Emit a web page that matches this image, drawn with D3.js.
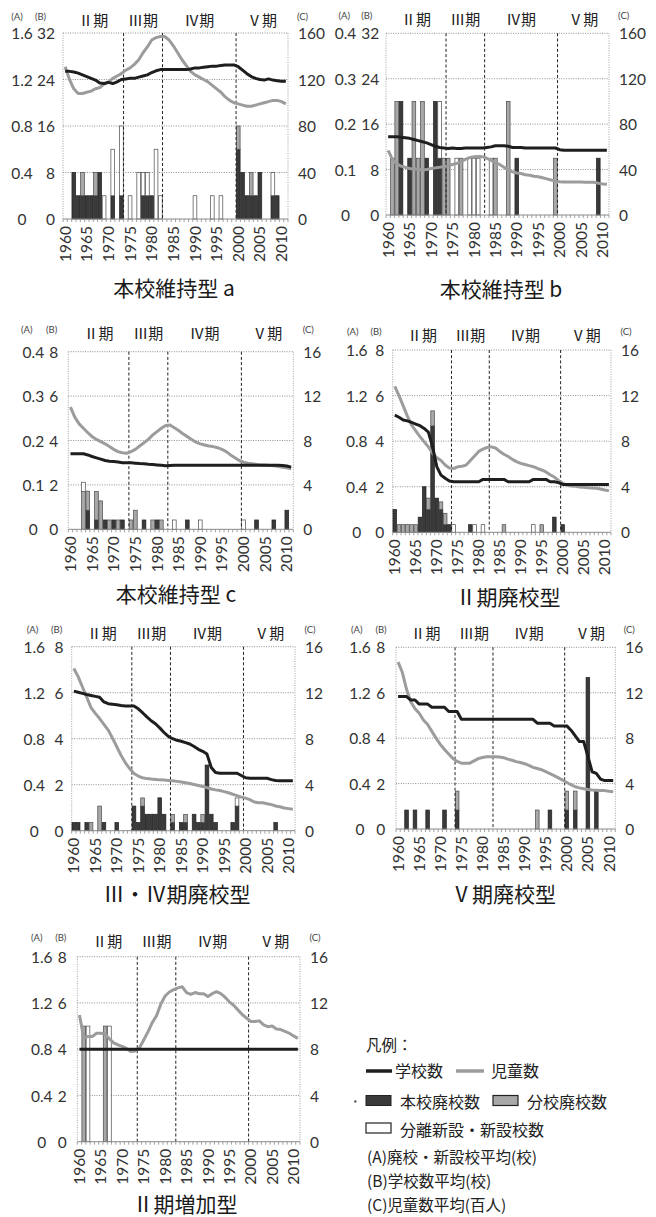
<!DOCTYPE html>
<html>
<head>
<meta charset="utf-8">
<script src="https://cdn.jsdelivr.net/npm/d3@7"></script>
<style>
  html, body { margin: 0; padding: 0; background: #fff; }
  svg { display: block; }
</style>
</head>
<body>
<svg id="chart" width="656" height="1217"></svg>
<script>
// ---------------------------------------------------------------
// Categories and tick labels
// ---------------------------------------------------------------
const years = d3.range(1960, 2012);
const yearTicks = [1960, 1965, 1970, 1975, 1980, 1985, 1990, 1995, 2000, 2005, 2010];
const yearTickLabels = ["1960", "1965", "1970", "1975", "1980", "1985", "1990", "1995", "2000", "2005", "2010"];
const periodNames = ["Ⅱ期", "Ⅲ期", "Ⅳ期", "Ⅴ期"];
const periodStarts = [1960, 1974, 1983, 2000];

const ticksA16 = [0, 0.4, 0.8, 1.2, 1.6];
const labelsA16 = ["0", "0.4", "0.8", "1.2", "1.6"];
const ticksA04 = [0, 0.1, 0.2, 0.3, 0.4];
const labelsA04 = ["0", "0.1", "0.2", "0.3", "0.4"];
const ticksB32 = [0, 8, 16, 24, 32];
const labelsB32 = ["0", "8", "16", "24", "32"];
const ticksB8 = [0, 2, 4, 6, 8];
const labelsB8 = ["0", "2", "4", "6", "8"];
const ticksC160 = [0, 40, 80, 120, 160];
const labelsC160 = ["0", "40", "80", "120", "160"];
const ticksC16 = [0, 4, 8, 12, 16];
const labelsC16 = ["0", "4", "8", "12", "16"];

// ---------------------------------------------------------------
// 本校維持型 a
// ---------------------------------------------------------------
const schools_a = [25.4,25.4,25.3,25.1,24.8,24.5,24.2,23.9,23.4,23.3,
                   23.5,23.3,23.6,24.0,24.1,24.2,24.2,24.4,24.6,24.8,
                   25.2,25.5,25.7,25.7,25.7,25.7,25.7,25.7,25.7,25.8,
                   26.0,26.0,26.1,26.2,26.3,26.3,26.4,26.5,26.5,26.5,
                   26.2,25.6,25.0,24.5,24.2,24.0,23.9,24.1,23.9,23.8,
                   23.7,23.7];
const pupils_a = [131,120,112,108,108,109,110,112,113,116,
                  118,121,123,125,128,130,133,137,143,148,
                  154,156,157,157,154,149,143,137,132,127,
                  124,122,120,118,115,112,109,105,102,100,
                  99,98,97,97,98,99,100,101,102,102,
                  101,99];
const closedMain_a = [[1962,0.4],[1963,0.2],[1964,0.2],[1965,0.2],[1966,0.2],[1967,0.2],[1968,0.4],
                      [1971,0.2],[1973,0.2],[1978,0.2],[1979,0.2],[1980,0.2],
                      [2000,0.6],[2001,0.4],[2002,0.2],[2003,0.2],[2004,0.2],[2005,0.4],[2008,0.2],[2009,0.2]];
const closedBranch_a = [[1964,0.2],[1967,0.2],[2000,0.2],[2003,0.2]];
const opened_a = [[1969,0.2],[1971,0.4],[1973,0.6],[1975,0.2],[1977,0.4],[1978,0.2],[1979,0.2],
                  [1981,0.6],[1982,0.2],[1990,0.2],[1994,0.2],[1996,0.2],[2008,0.2]];

// ---------------------------------------------------------------
// 本校維持型 b
// ---------------------------------------------------------------
const schools_b = [13.8,13.8,13.8,13.7,13.6,13.5,13.3,13.1,12.9,12.7,
                   12.4,12.1,11.9,11.8,11.7,11.8,11.7,11.7,11.8,11.8,
                   11.8,11.8,11.8,11.9,12.0,12.2,12.2,12.2,12.1,11.9,
                   11.9,11.9,11.8,11.8,11.8,11.8,11.8,11.8,11.8,11.8,
                   11.5,11.4,11.4,11.4,11.4,11.4,11.4,11.4,11.4,11.4,
                   11.4,11.4];
const pupils_b = [57,49,45,43,42,41,40.5,40,39.6,40,
                  41,41.5,42,42.6,43.5,44.5,45.5,47,49,50.5,
                  51.4,51.5,51.4,50,48,46,44.5,42,39.6,38,
                  37,36.5,35.5,35,34.2,33.7,32.8,31.8,30.8,30,
                  29.3,29,29,29,29,29,28.9,28.8,28.8,28,
                  27.4,27];
const closedMain_b = [[1963,0.25],[1965,0.125],[1969,0.125],[1971,0.25],[1972,0.125],[1990,0.125],[2009,0.125]];
const closedBranch_b = [[1961,0.125],[1962,0.25],[1966,0.25],[1967,0.125],[1968,0.25],[1973,0.125],
                        [1974,0.125],[1977,0.125],[1985,0.125],[1988,0.25],[1999,0.125]];
const opened_b = [[1972,0.125],[1976,0.125],[1979,0.125],[1980,0.125],[1981,0.125],[1984,0.125]];

// ---------------------------------------------------------------
// 本校維持型 c
// ---------------------------------------------------------------
const schools_c = [3.4,3.4,3.4,3.4,3.35,3.28,3.22,3.16,3.1,3.07,
                   3.05,3.03,3.0,3.0,3.0,2.98,2.96,2.95,2.93,2.92,
                   2.9,2.88,2.86,2.87,2.88,2.88,2.88,2.88,2.88,2.88,
                   2.88,2.88,2.88,2.88,2.88,2.88,2.88,2.88,2.88,2.88,
                   2.88,2.88,2.88,2.88,2.88,2.88,2.88,2.88,2.88,2.87,
                   2.85,2.8];
const pupils_c = [11.0,10.1,9.5,9.1,8.7,8.35,8.1,7.9,7.7,7.45,
                  7.2,7.0,6.9,6.85,7.0,7.2,7.5,7.8,8.1,8.5,
                  8.8,9.1,9.35,9.4,9.15,8.9,8.6,8.35,8.1,7.85,
                  7.7,7.6,7.5,7.45,7.35,7.2,7.0,6.7,6.45,6.2,
                  6.05,5.95,5.9,5.85,5.8,5.8,5.75,5.72,5.65,5.6,
                  5.55,5.45];
const closedMain_c = [[1964,0.043],[1966,0.021],[1968,0.021],[1970,0.021],[1972,0.021],[1977,0.021],
                      [1980,0.021],[1987,0.021],[2003,0.021],[2007,0.021],[2010,0.043]];
const closedBranch_c = [[1963,0.085],[1964,0.043],[1966,0.064],[1967,0.064],[1969,0.021],[1971,0.021],
                        [1974,0.021],[1975,0.043],[1979,0.021],[1981,0.021]];
const opened_c = [[1963,0.021],[1984,0.021],[1990,0.021],[2000,0.021]];

// ---------------------------------------------------------------
// Ⅱ期廃校型
// ---------------------------------------------------------------
const schools_d = [5.14,5.05,4.93,4.89,4.82,4.75,4.68,4.56,4.4,3.75,
                   2.88,2.51,2.37,2.25,2.22,2.22,2.22,2.22,2.22,2.22,
                   2.22,2.32,2.32,2.32,2.32,2.32,2.32,2.22,2.22,2.22,
                   2.22,2.22,2.22,2.32,2.32,2.32,2.32,2.22,2.22,2.18,
                   2.1,2.1,2.1,2.1,2.1,2.1,2.1,2.1,2.1,2.1,
                   2.1,2.1];
const pupils_d = [12.8,12.0,11.1,10.2,9.4,8.9,8.4,7.95,7.5,6.95,
                  6.55,6.3,5.9,5.65,5.6,5.75,5.8,5.9,6.3,6.7,
                  7.1,7.3,7.45,7.5,7.4,7.1,6.85,6.65,6.4,6.2,
                  6.05,5.95,5.85,5.76,5.6,5.47,5.3,5.05,4.85,4.55,
                  4.3,4.15,4.07,4.03,3.98,3.95,3.92,3.89,3.86,3.8,
                  3.72,3.65];
const closedMain_d = [[1960,0.2],[1966,0.133],[1967,0.4],[1968,0.2],[1969,0.933],[1970,0.3],[1971,0.2],
                      [1972,0.067],[1973,0.067],[1978,0.067],[1998,0.133],[2000,0.067]];
const closedBranch_d = [[1961,0.067],[1962,0.067],[1963,0.067],[1964,0.067],[1965,0.067],[1968,0.1],
                        [1969,0.133],[1971,0.067],[1972,0.1],[1986,0.067],[1995,0.067]];
const opened_d = [[1974,0.067],[1979,0.067],[1981,0.067],[1993,0.067]];

// ---------------------------------------------------------------
// Ⅲ・Ⅳ期廃校型
// ---------------------------------------------------------------
const schools_e = [6.07,6.02,5.97,5.92,5.88,5.84,5.8,5.6,5.52,5.5,
                   5.48,5.44,5.42,5.42,5.42,5.3,5.13,4.95,4.78,4.65,
                   4.47,4.27,4.1,4.0,3.93,3.89,3.83,3.77,3.66,3.54,
                   3.45,3.33,2.75,2.53,2.5,2.5,2.5,2.5,2.5,2.4,
                   2.3,2.28,2.28,2.28,2.28,2.28,2.22,2.18,2.17,2.17,
                   2.17,2.17];
const pupils_e = [14.1,13.4,12.5,11.6,10.7,10.2,9.75,9.25,8.75,8.05,
                  7.3,6.55,5.9,5.4,4.97,4.75,4.6,4.53,4.49,4.46,
                  4.42,4.4,4.37,4.34,4.29,4.24,4.17,4.1,4.02,3.93,
                  3.85,3.75,3.63,3.55,3.49,3.4,3.3,3.17,3.05,2.92,
                  2.83,2.7,2.5,2.43,2.43,2.35,2.27,2.15,2.08,1.98,
                  1.92,1.86];
const closedMain_e = [[1960,0.071],[1961,0.071],[1963,0.071],[1967,0.071],[1970,0.071],[1974,0.214],
                      [1975,0.071],[1976,0.214],[1977,0.143],[1978,0.143],[1979,0.143],[1980,0.286],
                      [1981,0.143],[1983,0.071],[1985,0.071],[1986,0.071],[1988,0.143],[1989,0.071],
                      [1990,0.071],[1991,0.571],[1992,0.143],[1993,0.071],[1997,0.071],[1998,0.214],[2007,0.071]];
const closedBranch_e = [[1964,0.071],[1966,0.214],[1976,0.071],[1983,0.071],[1986,0.071],[1990,0.071]];
const opened_e = [[1998,0.071]];

// ---------------------------------------------------------------
// Ⅴ期廃校型
// ---------------------------------------------------------------
const schools_f = [5.83,5.83,5.83,5.68,5.68,5.5,5.5,5.5,5.36,5.36,
                   5.36,5.36,5.17,5.17,5.17,4.83,4.83,4.83,4.83,4.83,
                   4.83,4.83,4.83,4.83,4.83,4.83,4.83,4.83,4.83,4.83,
                   4.83,4.83,4.83,4.66,4.66,4.66,4.66,4.54,4.54,4.54,
                   4.54,4.35,4.1,3.85,3.85,3.2,2.52,2.45,2.2,2.13,
                   2.13,2.13];
const pupils_f = [14.7,13.8,12.3,11.2,10.6,10.2,9.6,9.2,8.6,8.0,
                  7.45,7.0,6.6,6.2,5.95,5.8,5.78,5.8,6.0,6.2,
                  6.3,6.36,6.36,6.36,6.34,6.28,6.15,6.05,5.93,5.85,
                  5.75,5.6,5.43,5.33,5.22,5.05,4.88,4.7,4.5,4.31,
                  4.1,3.9,3.72,3.62,3.55,3.48,3.43,3.42,3.4,3.38,
                  3.33,3.29];
const closedMain_f = [[1962,0.167],[1964,0.167],[1967,0.167],[1971,0.167],[1974,0.167],[1996,0.167],
                      [2000,0.167],[2002,0.167],[2005,1.333],[2007,0.333]];
const closedBranch_f = [[1974,0.167],[1993,0.167],[2000,0.167],[2002,0.167]];
const opened_f = [];

// ---------------------------------------------------------------
// Ⅱ期増加型
// ---------------------------------------------------------------
const schools_g = [4,4,4,4,4,4,4,4,4,4,
                   4,4,4,4,4,4,4,4,4,4,
                   4,4,4,4,4,4,4,4,4,4,
                   4,4,4,4,4,4,4,4,4,4,
                   4,4,4,4,4,4,4,4,4,4,
                   4,4];
const pupils_g = [10.96,9.0,9.1,9.1,9.38,9.38,9.3,8.9,8.55,8.37,
                  8.25,8.05,7.8,7.85,8.1,8.8,9.5,10.3,10.9,11.9,
                  12.6,12.95,13.15,13.3,13.4,12.9,12.75,12.9,12.8,12.8,
                  12.55,12.8,12.97,12.8,12.5,12.1,11.8,11.4,11.0,10.7,
                  10.4,10.4,10.45,10.1,9.95,10.0,9.75,9.7,9.55,9.38,
                  9.15,8.94];
const closedMain_g = [];
const closedBranch_g = [[1961,1.0],[1966,1.0]];
const opened_g = [[1962,1.0],[1967,1.0]];

// ---------------------------------------------------------------
// Panel definitions (data references + frame geometry)
// ---------------------------------------------------------------
const panels = [
  { title: "本校維持型 a", schools: schools_a, pupils: pupils_a, main: closedMain_a, branch: closedBranch_a, opened: opened_a,
    aT: ticksA16, aL: labelsA16, bT: ticksB32, bL: labelsB32, cT: ticksC160, cL: labelsC160,
    box: { left: 63, right: 288, top: 33, bottom: 219, head: 26, titleX: 174, titleY: 295.5, aOff: 41, bOff: 8, hA: 46, hB: 22.5, hC: 14.5 } },
  { title: "本校維持型 b", schools: schools_b, pupils: pupils_b, main: closedMain_b, branch: closedBranch_b, opened: opened_b,
    aT: ticksA04, aL: labelsA04, bT: ticksB32, bL: labelsB32, cT: ticksC160, cL: labelsC160,
    box: { left: 386, right: 609, top: 33.3, bottom: 215, head: 24.5, titleX: 501, titleY: 296.5, aOff: 40.5, bOff: 6.7, hA: 41.7, hB: 19.2, hC: 14.7 } },
  { title: "本校維持型 c", schools: schools_c, pupils: pupils_c, main: closedMain_c, branch: closedBranch_c, opened: opened_c,
    aT: ticksA04, aL: labelsA04, bT: ticksB8, bL: labelsB8, cT: ticksC16, cL: labelsC16,
    box: { left: 68.3, right: 293.3, top: 351.7, bottom: 529.3, head: 339, titleX: 176, titleY: 601.5, aOff: 35, bOff: 10, hA: 41.6, hB: 16.6, hC: 15 } },
  { title: "Ⅱ期廃校型", schools: schools_d, pupils: pupils_d, main: closedMain_d, branch: closedBranch_d, opened: opened_d,
    aT: ticksA16, aL: labelsA16, bT: ticksB8, bL: labelsB8, cT: ticksC16, cL: labelsC16,
    box: { left: 392.7, right: 611, top: 350, bottom: 532.3, head: 340.5, titleX: 508, titleY: 605, aOff: 36, bOff: 8.4, hA: 40, hB: 16.7, hC: 15 } },
  { title: "Ⅲ・Ⅳ期廃校型", schools: schools_e, pupils: pupils_e, main: closedMain_e, branch: closedBranch_e, opened: opened_e,
    aT: ticksA16, aL: labelsA16, bT: ticksB8, bL: labelsB8, cT: ticksC16, cL: labelsC16,
    box: { left: 71.7, right: 295, top: 646.7, bottom: 830.7, head: 639, titleX: 177, titleY: 901.5, aOff: 37.5, bOff: 8.3, hA: 39.2, hB: 15, hC: 15 } },
  { title: "Ⅴ期廃校型", schools: schools_f, pupils: pupils_f, main: closedMain_f, branch: closedBranch_f, opened: opened_f,
    aT: ticksA16, aL: labelsA16, bT: ticksB8, bL: labelsB8, cT: ticksC16, cL: labelsC16,
    box: { left: 396, right: 615.3, top: 647.3, bottom: 829, head: 639, titleX: 503.5, titleY: 901.5, aOff: 36, bOff: 10.7, hA: 39.2, hB: 15, hC: 14 } },
  { title: "Ⅱ期増加型", schools: schools_g, pupils: pupils_g, main: closedMain_g, branch: closedBranch_g, opened: opened_g,
    aT: ticksA16, aL: labelsA16, bT: ticksB8, bL: labelsB8, cT: ticksC16, cL: labelsC16,
    box: { left: 77.3, right: 300, top: 956.7, bottom: 1141.7, head: 947, titleX: 185, titleY: 1211.5, aOff: 35.6, bOff: 10.6, hA: 40.6, hB: 16.5, hC: 15 } }
];

// ---------------------------------------------------------------
// Styles
// ---------------------------------------------------------------
const FONT_NUM = "Lato, 'Open Sans', sans-serif";
const FONT_JP = "'Noto Sans CJK JP', 'Noto Sans CJK SC', sans-serif";
const COL_SCHOOL = "#1e1e1e";
const COL_PUPIL = "#9c9c9c";
const BAR_FILL = { main: "#3a3a3a", branch: "#a8a8a8", opened: "#ffffff" };
const BAR_STROKE = { main: "#222", branch: "#4a4a4a", opened: "#4a4a4a" };

const svg = d3.select("#chart");
svg.append("rect").attr("width", 656).attr("height", 1217).attr("fill", "#fff");

function lookup(list, yr) {
  const hit = list.find(d => d[0] === yr);
  return hit ? hit[1] : 0;
}

function drawPanel(p) {
  const b = p.box;
  const g = svg.append("g");

  const x = d3.scaleBand().domain(years).range([b.left, b.right]).padding(0);
  const bw = x.bandwidth();
  const cx = yr => x(yr) + bw / 2;
  const yA = d3.scaleLinear().domain([0, p.aT[p.aT.length - 1]]).range([b.bottom, b.top]);
  const yB = d3.scaleLinear().domain([0, p.bT[p.bT.length - 1]]).range([b.bottom, b.top]);
  const yC = d3.scaleLinear().domain([0, p.cT[p.cT.length - 1]]).range([b.bottom, b.top]);

  // horizontal dotted gridlines
  g.append("g").selectAll("line").data(p.aT.slice(1)).join("line")
    .attr("x1", b.left).attr("x2", b.right)
    .attr("y1", d => yA(d)).attr("y2", d => yA(d))
    .attr("stroke", "#8f8f8f").attr("stroke-width", 1).attr("stroke-dasharray", "1,1.4");

  // dotted side borders
  [b.left, b.right].forEach(xx => {
    g.append("line").attr("x1", xx).attr("x2", xx).attr("y1", b.top).attr("y2", b.bottom)
      .attr("stroke", "#a0a0a0").attr("stroke-width", 1).attr("stroke-dasharray", "1,1.4");
  });

  // stacked closure / opening bars
  const rows = years.map(yr => ({
    year: yr,
    main: lookup(p.main, yr),
    branch: lookup(p.branch, yr),
    opened: lookup(p.opened, yr)
  }));
  const stacked = d3.stack().keys(["main", "branch", "opened"])(rows);
  const barW = bw * 0.86;
  stacked.forEach(layer => {
    g.append("g").selectAll("rect")
      .data(layer.filter(d => d[1] - d[0] > 0))
      .join("rect")
      .attr("x", d => cx(d.data.year) - barW / 2)
      .attr("width", barW)
      .attr("y", d => yA(d[1]))
      .attr("height", d => yA(d[0]) - yA(d[1]))
      .attr("fill", BAR_FILL[layer.key])
      .attr("stroke", BAR_STROKE[layer.key])
      .attr("stroke-width", 0.7);
  });

  // period boundaries
  periodStarts.slice(1).forEach(yr => {
    g.append("line").attr("x1", x(yr)).attr("x2", x(yr)).attr("y1", b.top).attr("y2", b.bottom)
      .attr("stroke", "#222").attr("stroke-width", 1).attr("stroke-dasharray", "3,2.2");
  });

  // bottom axis line with yearly ticks
  g.append("line").attr("x1", b.left).attr("x2", b.right).attr("y1", b.bottom).attr("y2", b.bottom)
    .attr("stroke", "#8a8a8a").attr("stroke-width", 1);
  g.append("g").selectAll("line").data(years.concat([null])).join("line")
    .attr("x1", d => d === null ? b.right : x(d)).attr("x2", d => d === null ? b.right : x(d))
    .attr("y1", b.bottom).attr("y2", b.bottom + 3)
    .attr("stroke", "#8a8a8a").attr("stroke-width", 0.8);

  // year labels (rotated)
  g.append("g").attr("transform", `translate(0,${b.bottom})`)
    .call(d3.axisBottom(x).tickValues(yearTicks).tickSize(0).tickFormat((d, i) => yearTickLabels[i]))
    .call(s => s.select(".domain").remove())
    .selectAll("text")
    .attr("transform", "rotate(-90)")
    .attr("text-anchor", "end")
    .attr("x", -7).attr("y", 0).attr("dy", "0.36em")
    .attr("font-family", FONT_NUM).attr("font-size", 15.5).attr("fill", "#333");

  // lines: school count (B axis) and pupils (C axis)
  const lineB = d3.line().x((d, i) => cx(years[i])).y(d => yB(d));
  const lineC = d3.line().x((d, i) => cx(years[i])).y(d => yC(d));
  g.append("path").datum(p.pupils).attr("d", lineC)
    .attr("fill", "none").attr("stroke", COL_PUPIL).attr("stroke-width", 3)
    .attr("stroke-linejoin", "round");
  g.append("path").datum(p.schools).attr("d", lineB)
    .attr("fill", "none").attr("stroke", COL_SCHOOL).attr("stroke-width", 3)
    .attr("stroke-linejoin", "round");

  // left axes (A centred, B right aligned) and right axis (C)
  g.append("g").attr("transform", `translate(${b.left - b.aOff},0)`)
    .call(d3.axisLeft(yA).tickValues(p.aT).tickSize(0).tickFormat((d, i) => p.aL[i]))
    .call(s => s.select(".domain").remove())
    .selectAll("text").attr("x", 0).attr("dy", "0.36em").attr("text-anchor", "middle")
    .attr("font-family", FONT_NUM).attr("font-size", 15.5).attr("fill", "#333");
  g.append("g").attr("transform", `translate(${b.left - b.bOff},0)`)
    .call(d3.axisLeft(yB).tickValues(p.bT).tickSize(0).tickFormat((d, i) => p.bL[i]))
    .call(s => s.select(".domain").remove())
    .selectAll("text").attr("x", 0).attr("dy", "0.36em").attr("text-anchor", "end")
    .attr("font-family", FONT_NUM).attr("font-size", 15.5).attr("fill", "#333");
  g.append("g").attr("transform", `translate(${b.right + 10},0)`)
    .call(d3.axisRight(yC).tickValues(p.cT).tickSize(0).tickFormat((d, i) => p.cL[i]))
    .call(s => s.select(".domain").remove())
    .selectAll("text").attr("x", 0).attr("dy", "0.36em").attr("text-anchor", "start")
    .attr("font-family", FONT_NUM).attr("font-size", 15.5).attr("fill", "#333");

  // axis identifiers
  [["(A)", b.left - b.hA], ["(B)", b.left - b.hB], ["(C)", b.right + b.hC]].forEach(([t, xx]) => {
    g.append("text").attr("x", xx).attr("y", b.head - 6).attr("text-anchor", "middle")
      .attr("font-family", FONT_NUM).attr("font-size", 9.5).attr("fill", "#444").text(t);
  });

  // period names
  periodNames.forEach((name, i) => {
    const x0 = x(periodStarts[i]);
    const x1 = i < periodStarts.length - 1 ? x(periodStarts[i + 1]) : b.right;
    g.append("text").attr("x", (x0 + x1) / 2).attr("y", b.head).attr("text-anchor", "middle")
      .attr("font-family", FONT_JP).attr("font-size", 15).attr("fill", "#222").text(name);
  });

  // panel title
  g.append("text").attr("x", b.titleX).attr("y", b.titleY).attr("text-anchor", "middle")
    .attr("font-family", FONT_JP).attr("font-size", 21).attr("fill", "#1a1a1a").text(p.title);
}

panels.forEach(drawPanel);

// ---------------------------------------------------------------
// Legend
// ---------------------------------------------------------------
const lg = svg.append("g").attr("font-family", FONT_JP).attr("fill", "#222");
lg.append("text").attr("x", 366).attr("y", 1051).attr("font-size", 15.5).text("凡例：");

lg.append("line").attr("x1", 366).attr("x2", 392).attr("y1", 1071).attr("y2", 1071)
  .attr("stroke", COL_SCHOOL).attr("stroke-width", 3.5);
lg.append("text").attr("x", 395).attr("y", 1077).attr("font-size", 16).text("学校数");
lg.append("line").attr("x1", 456).attr("x2", 484).attr("y1", 1071).attr("y2", 1071)
  .attr("stroke", COL_PUPIL).attr("stroke-width", 3.5);
lg.append("text").attr("x", 491).attr("y", 1077).attr("font-size", 16).text("児童数");

lg.append("circle").attr("cx", 355.3).attr("cy", 1101.5).attr("r", 1.2).attr("fill", "#555");
lg.append("rect").attr("x", 366).attr("y", 1095.5).attr("width", 25).attr("height", 10)
  .attr("fill", BAR_FILL.main).attr("stroke", BAR_STROKE.main).attr("stroke-width", 1);
lg.append("text").attr("x", 400).attr("y", 1107.5).attr("font-size", 16).text("本校廃校数");
lg.append("rect").attr("x", 493).attr("y", 1095.5).attr("width", 25).attr("height", 10)
  .attr("fill", BAR_FILL.branch).attr("stroke", "#222").attr("stroke-width", 1.2);
lg.append("text").attr("x", 527).attr("y", 1107.5).attr("font-size", 16).text("分校廃校数");

lg.append("rect").attr("x", 366).attr("y", 1123).attr("width", 25).attr("height", 10)
  .attr("fill", "#fff").attr("stroke", "#222").attr("stroke-width", 1.2);
lg.append("text").attr("x", 400).attr("y", 1135.5).attr("font-size", 16).text("分離新設・新設校数");

lg.append("text").attr("x", 367).attr("y", 1163).attr("font-size", 15.5).text("(A)廃校・新設校平均(校)");
lg.append("text").attr("x", 367).attr("y", 1187).attr("font-size", 15.5).text("(B)学校数平均(校)");
lg.append("text").attr("x", 367).attr("y", 1210.5).attr("font-size", 15.5).text("(C)児童数平均(百人)");
</script>
</body>
</html>
